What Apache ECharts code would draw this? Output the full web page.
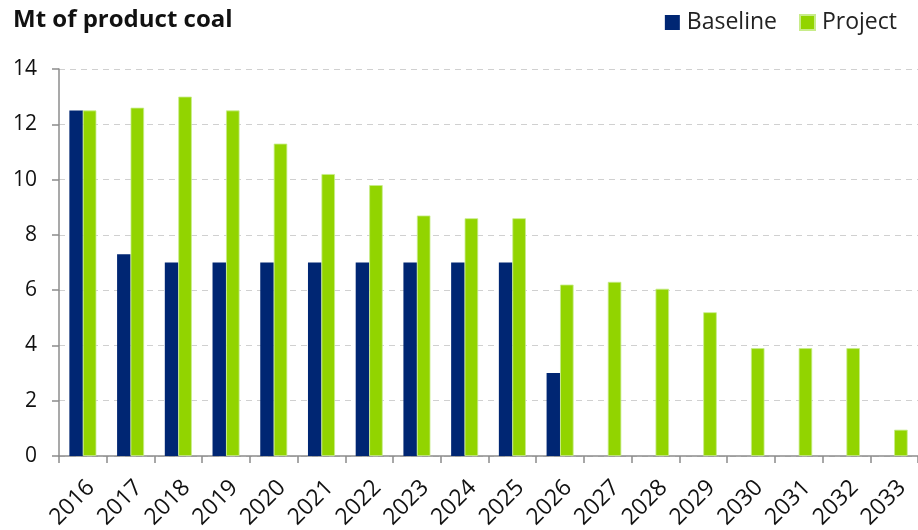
<!DOCTYPE html>
<html>
<head>
<meta charset="utf-8">
<script src="https://cdn.jsdelivr.net/npm/echarts@6/dist/echarts.min.js"></script>
<style>
html,body{margin:0;padding:0;background:#fff;}
#chart{width:918px;height:530px;}
</style>
</head>
<body>
<div id="chart"></div>
<script>
const years = ['2016','2017','2018','2019','2020','2021','2022','2023','2024','2025','2026','2027','2028','2029','2030','2031','2032','2033'];
const baseline = [12.5, 7.3, 7.0, 7.0, 7.0, 7.0, 7.0, 7.0, 7.0, 7.0, 3.0, null, null, null, null, null, null, null];
const project = [12.5, 12.6, 13.0, 12.5, 11.3, 10.2, 9.8, 8.7, 8.6, 8.6, 6.2, 6.3, 6.05, 5.2, 3.9, 3.9, 3.9, 0.95];
const yTicks = { min: 0, max: 14, interval: 2 };
const titleText = 'Mt of product coal';

const font = '"Open Sans", sans-serif';
const chart = echarts.init(document.getElementById('chart'));
chart.setOption({
  animation: false,
  backgroundColor: '#ffffff',
  title: {
    text: titleText,
    left: 8, top: 3,
    textStyle: { fontFamily: font, fontSize: 24, fontWeight: 'bold', color: '#111' }
  },
  legend: {
    right: 16, top: 6,
    itemWidth: 15, itemHeight: 15, itemGap: 22,
    icon: 'rect',
    textStyle: { fontFamily: font, fontSize: 23, color: '#222', padding: [0, 0, 0, 2] },
    data: ['Baseline', 'Project']
  },
  grid: { left: 59, right: 0, top: 69, bottom: 74, containLabel: false, outerBoundsMode: 'none' },
  xAxis: {
    type: 'category',
    data: years,
    axisLine: { lineStyle: { color: '#8c8c8c', width: 1.5 } },
    axisTick: { show: true, length: 7, lineStyle: { color: '#8c8c8c', width: 1.5 } },
    axisLabel: { rotate: 45, fontFamily: font, fontSize: 23, color: '#111', margin: 20, interval: 0, verticalAlign: 'top' }
  },
  yAxis: {
    type: 'value',
    min: yTicks.min, max: yTicks.max, interval: yTicks.interval,
    axisLine: { show: true, lineStyle: { color: '#8c8c8c', width: 1.5 } },
    axisTick: { show: true, length: 7, lineStyle: { color: '#8c8c8c', width: 1.5 } },
    axisLabel: { fontFamily: font, fontSize: 21, color: '#111', margin: 22 },
    splitLine: { show: true, lineStyle: { color: '#d0d0d0', type: [6, 5], width: 1.2 } }
  },
  series: [
    {
      name: 'Baseline', type: 'bar', data: baseline,
      barWidth: 13.5, barGap: '0%',
      itemStyle: { color: '#002673' }
    },
    {
      name: 'Project', type: 'bar', data: project,
      barWidth: 13.5,
      itemStyle: { color: '#92d400', borderColor: '#c8ec8a', borderWidth: 0.8 }
    }
  ]
});
</script>
</body>
</html>
